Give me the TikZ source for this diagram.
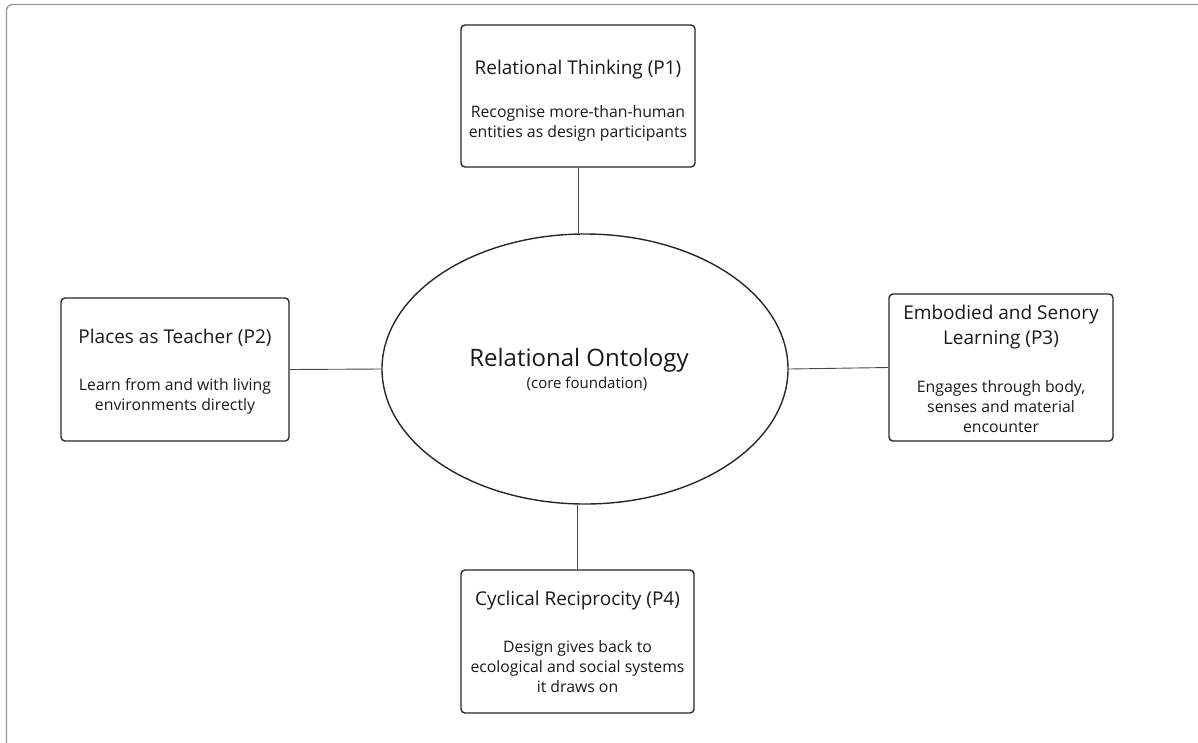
\documentclass[tikz,border=0pt]{standalone}
\usepackage{fontspec}
\setmainfont{Open Sans}
\usetikzlibrary{shapes.geometric}
\definecolor{edge}{RGB}{40,40,40}
\definecolor{frame}{RGB}{150,150,150}
\tikzset{
  pbox/.style={draw=edge, line width=1.4pt, rounded corners=4pt, inner sep=0pt},
  ptext/.style={align=center, inner sep=0pt, text=black!90, font=\fontsize{15.8}{20}\selectfont},
  link/.style={draw=edge!85, line width=0.9pt},
}
\newcommand{\ttl}[1]{{\fontsize{19}{25}\selectfont #1}}
\begin{document}
\begin{tikzpicture}[x=1pt,y=-1pt]
\useasboundingbox (0,0) rectangle (1198,742);
\draw[frame, line width=1.3pt, rounded corners=6pt] (1210,4.5) -- (6.5,4.5) -- (6.5,760);
% boxes
\node[pbox, minimum width=234pt, minimum height=142pt] (p1) at (578,96) {};
\node[ptext, font=\fontsize{15.8}{20.5}\selectfont] (p1t) at ([yshift=-5pt]p1.center)
  {\ttl{Relational Thinking (P1)}\\[22pt]Recognise more-than-human\\entities as design participants};
\node[pbox, minimum width=228pt, minimum height=143pt] (p2) at (175,369.5) {};
\node[ptext] (p2t) at ([yshift=-2pt]p2.center)
  {\ttl{Places as Teacher (P2)}\\[27pt]Learn from and with living\\environments directly};
\node[pbox, minimum width=224pt, minimum height=147pt] (p3) at (1001,367.5) {};
\node[ptext] (p3t) at ([yshift=-1pt]p3.center)
  {\ttl{Embodied and Senory}\\[5pt]\ttl{Learning (P3)}\\[28pt]Engages through body,\\senses and material\\encounter};
\node[pbox, minimum width=233pt, minimum height=143pt] (p4) at (577.5,641.5) {};
\node[ptext] (p4t) at (p4.center)
  {\ttl{Cyclical Reciprocity (P4)}\\[27pt]Design gives back to\\ecological and social systems\\it draws on};
% ellipse
\node[ellipse, draw=edge, line width=1.4pt, minimum width=406pt, minimum height=270pt, inner sep=0pt] (core) at (585,369) {};
\node[ptext, font=\fontsize{24}{28}\selectfont] (coret) at (579,360) {Relational Ontology};
\node[ptext, font=\fontsize{15}{20}\selectfont] (cores) at (587,384) {(core foundation)};
% connectors
\draw[link] (p1.south) -- (p1.south |- core.north);
\draw[link] (core.south -| p4.north) -- (p4.north);
\draw[link] (p2.east) -- (core.west);
\draw[link] (core.east) -- (p3.west);
\end{tikzpicture}
\end{document}
